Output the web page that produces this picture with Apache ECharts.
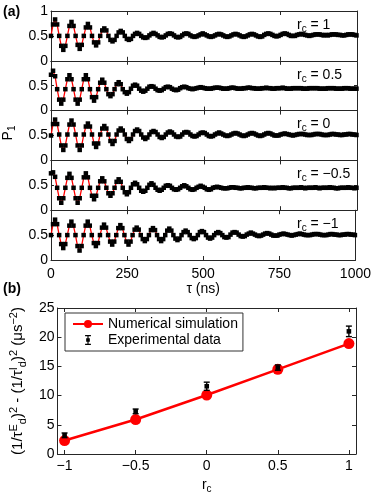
<!DOCTYPE html>
<html>
<head>
<meta charset="utf-8">
<script src="https://cdn.jsdelivr.net/npm/echarts@6/dist/echarts.min.js"></script>
<style>
html, body { margin: 0; padding: 0; background: #fff; }
#main { width: 374px; height: 495px; }
</style>
</head>
<body>
<div id="main"></div>
<script>
// (a) P1 vs tau, one sample every 6.7 ns
var tauStep = 6.7;
var rcLabels = ['1', '0.5', '0', '\u22120.5', '\u22121'];
var p1Rc1 = [
    .50,.73,.83,.73, .50,.30,.22,.30, .50,.70,.78,.70, .50,.32,.24,.32,
    .50,.67,.74,.67, .50,.37,.31,.37, .50,.61,.65,.61, .50,.42,.39,.42,
    .50,.57,.60,.57, .50,.44,.42,.44, .50,.54,.56,.54, .50,.47,.46,.47,
    .51,.54,.56,.54, .51,.48,.47,.48, .51,.54,.55,.54, .51,.48,.47,.48,
    .51,.54,.55,.54, .51,.49,.48,.49, .51,.53,.55,.53, .51,.49,.48,.49,
    .51,.53,.54,.53, .51,.49,.48,.49, .51,.53,.54,.53, .51,.49,.48,.49,
    .51,.53,.54,.53, .51,.49,.48,.49, .52,.54,.55,.54, .52,.50,.49,.50,
    .52,.54,.55,.54, .52,.50,.50,.50, .52,.53,.54,.53, .52,.51,.50,.51,
    .52,.53,.53,.53, .52,.51,.52,.51, .52,.53,.53,.53, .52,.52,.51,.51,
    .52,.53,.53,.53, .52,.51
];
var p1Rc05 = [
    .72,.80,.69, .43,.22,.14,.22, .43,.63,.71,.63, .43,.22,.14,.22,
    .43,.63,.71,.63, .43,.27,.20,.27, .43,.56,.62,.56, .43,.33,.29,.33,
    .43,.53,.57,.53, .43,.37,.34,.37, .44,.50,.52,.50, .44,.40,.38,.40,
    .44,.48,.49,.48, .44,.41,.40,.41, .44,.47,.48,.47, .44,.42,.41,.42,
    .45,.47,.48,.47, .45,.44,.43,.44, .45,.46,.47,.46, .45,.44,.44,.44,
    .45,.46,.46,.46, .45,.44,.44,.44, .45,.46,.46,.45, .44,.44,.44,.45,
    .45,.46,.46,.45, .45,.44,.44,.44, .45,.45,.46,.45, .45,.44,.44,.45,
    .45,.45,.46,.45, .44,.44,.44,.45, .45,.45,.45,.45, .44,.44,.44,.45,
    .45,.45,.45,.45, .44,.44,.44,.44, .45,.45,.45,.45, .44,.44,.44,.44,
    .45,.45,.45,.44, .44,.44,.44
];
var p1Rc0 = [
    .50,.73,.82,.73, .52,.30,.21,.30, .52,.72,.80,.72, .52,.30,.21,.30,
    .52,.68,.74,.68, .52,.34,.27,.34, .52,.64,.69,.64, .52,.39,.33,.39,
    .52,.60,.64,.60, .52,.43,.39,.43, .52,.59,.62,.59, .52,.46,.43,.46,
    .52,.57,.59,.57, .52,.47,.45,.47, .52,.56,.58,.56, .52,.48,.47,.48,
    .52,.56,.57,.56, .52,.49,.48,.49, .52,.55,.56,.55, .52,.49,.48,.49,
    .52,.54,.56,.54, .52,.50,.49,.50, .52,.54,.55,.54, .52,.50,.49,.50,
    .52,.54,.55,.54, .52,.50,.49,.50, .52,.54,.55,.54, .52,.50,.50,.50,
    .52,.53,.54,.53, .52,.51,.50,.51, .52,.53,.53,.53, .52,.51,.51,.51,
    .52,.53,.53,.53, .52,.51,.51,.51, .52,.53,.53,.52, .52,.51,.51,.52,
    .52,.53,.53,.52, .52,.51
];
var p1RcM05 = [
    .74,.76,.67, .45,.24,.15,.24, .45,.65,.73,.65, .45,.24,.15,.24,
    .45,.66,.74,.66, .45,.29,.22,.29, .45,.58,.64,.58, .45,.34,.29,.34,
    .45,.57,.62,.57, .45,.36,.32,.36, .45,.52,.55,.52, .45,.39,.37,.39,
    .45,.51,.54,.51, .45,.41,.39,.41, .45,.49,.50,.49, .45,.42,.41,.42,
    .45,.48,.50,.48, .45,.42,.41,.42, .45,.47,.49,.47, .45,.42,.41,.42,
    .45,.46,.47,.46, .45,.44,.44,.44, .45,.46,.46,.45, .45,.44,.44,.45,
    .45,.46,.45,.45, .44,.44,.45,.45, .45,.46,.45,.45, .44,.45,.44,.45,
    .45,.45,.46,.45, .45,.44,.44,.45, .45,.45,.45,.46, .45,.44,.45,.45,
    .45,.45,.46,.45, .44,.45,.45,.45, .45,.46,.45,.45, .44,.44,.45,.45,
    .45,.45,.46,.45, .45,.44,.45
];
var p1RcM1 = [
    .50,.72,.81,.72, .50,.32,.24,.32, .50,.69,.77,.69, .50,.28,.19,.28,
    .50,.69,.77,.69, .50,.34,.28,.34, .50,.65,.71,.65, .50,.37,.31,.37,
    .50,.64,.70,.64, .50,.37,.31,.37, .50,.61,.65,.61, .50,.42,.38,.42,
    .50,.60,.64,.60, .50,.42,.38,.42, .50,.59,.63,.59, .50,.43,.40,.43,
    .50,.56,.59,.56, .50,.44,.42,.44, .50,.56,.58,.56, .50,.45,.43,.45,
    .50,.54,.56,.54, .50,.46,.45,.46, .51,.55,.56,.55, .51,.48,.47,.48,
    .51,.53,.55,.53, .51,.49,.48,.49, .51,.53,.54,.53, .51,.49,.49,.49,
    .51,.52,.53,.52, .51,.50,.49,.50, .51,.52,.53,.52, .51,.50,.50,.50,
    .51,.52,.52,.52, .51,.50,.50,.50, .51,.52,.52,.51, .51,.50,.50,.51,
    .51,.52,.52,.51, .51,.50
];
var panelsA = [p1Rc1, p1Rc05, p1Rc0, p1RcM05, p1RcM1];

// (b) decay rate difference vs r_c
var rcValues = [-1, -0.5, 0, 0.5, 1];
var simValues = [2.3, 5.9, 10.1, 14.5, 18.9];
var expValues = [3.2, 7.3, 11.6, 14.8, 21.0];
var expErrors = [0.4, 0.4, 0.7, 0.45, 0.9];

var FONT = 'Liberation Sans, Arial, Helvetica, sans-serif';
var AX = '#262626';

var chart = echarts.init(document.getElementById('main'));

var grids = [], xAxes = [], yAxes = [], series = [], graphics = [];
var topA = 11, hA = 49.8;

for (var i = 0; i < 5; i++) {
    grids.push({left: 51, right: 17, top: topA + hA * i, height: hA});
    var last = (i === 4);
    xAxes.push({
        type: 'value', gridIndex: i, position: 'bottom', min: 0, max: 1000, interval: 250,
        axisLine: {show: true, onZero: false, lineStyle: {color: AX, width: 1}},
        axisTick: {show: true, inside: true, length: 4, lineStyle: {color: AX}},
        axisLabel: {show: last, color: '#000', fontSize: 14, margin: 7, fontFamily: FONT,
            formatter: function (v) { return String(v); }},
        splitLine: {show: false},
        name: last ? '\u03c4 (ns)' : '', nameLocation: 'middle', nameGap: 22,
        nameTextStyle: {color: '#000', fontSize: 14, fontFamily: FONT}
    });
    xAxes.push({
        type: 'value', gridIndex: i, position: 'top', min: 0, max: 1000, interval: 250,
        axisLine: {show: true, onZero: false, lineStyle: {color: AX, width: 1}},
        axisTick: {show: true, inside: true, length: 4, lineStyle: {color: AX}},
        axisLabel: {show: false}, splitLine: {show: false}
    });
    (function (k) {
        yAxes.push({
            type: 'value', gridIndex: k, position: 'left', min: 0, max: 1, interval: 0.5,
            axisLine: {show: true, onZero: false, lineStyle: {color: AX, width: 1}},
            axisTick: {show: true, inside: true, length: 3, lineStyle: {color: AX}},
            axisLabel: {
                color: '#000', fontSize: 14, margin: 3, fontFamily: FONT,
                formatter: function (v) { return (k > 0 && v === 1) ? '' : String(v); }
            },
            splitLine: {show: false}
        });
    })(i);
    yAxes.push({
        type: 'value', gridIndex: i, position: 'right', min: 0, max: 1, interval: 0.5,
        axisLine: {show: true, onZero: false, lineStyle: {color: AX, width: 1}},
        axisTick: {show: true, inside: true, length: 3, lineStyle: {color: AX}},
        axisLabel: {show: false}, splitLine: {show: false}
    });

    var pts = [];
    for (var j = 0; j < panelsA[i].length; j++) {
        pts.push([j * tauStep, panelsA[i][j]]);
    }
    series.push({
        type: 'line', xAxisIndex: 2 * i, yAxisIndex: 2 * i, data: pts,
        symbol: 'rect', symbolSize: 4.5, showSymbol: true,
        itemStyle: {color: '#000'},
        lineStyle: {color: '#ff0000', width: 1.3},
        silent: true
    });

    graphics.push({
        type: 'text', x: 297, y: topA + hA * i + 14,
        style: {
            text: 'r{s|c} = ' + rcLabels[i], fill: '#000',
            font: '14px ' + FONT, verticalAlign: 'middle', align: 'left',
            rich: {s: {fontSize: 10, fontFamily: FONT, padding: [8, 0, 0, 0]}}
        }
    });
}

// y title of (a), shared by the five panels
graphics.push({
    type: 'text', x: 8, y: 133, rotation: Math.PI / 2,
    style: {
        text: 'P{s|1}', fill: '#000', font: '14px ' + FONT,
        align: 'center', verticalAlign: 'middle',
        rich: {s: {fontSize: 10, fontFamily: FONT, padding: [8, 0, 0, 0]}}
    }
});

// panel (b)
grids.push({left: 56, right: 18, top: 308, height: 151});
var bTicks = rcValues.slice();
function minusFmt(v) { return String(v).replace('-', '\u2212'); }
xAxes.push({
    type: 'value', gridIndex: 5, position: 'bottom', min: -1.05, max: 1.05,
    axisLine: {show: true, onZero: false, lineStyle: {color: AX, width: 1}},
    axisTick: {show: true, inside: true, length: 4, customValues: bTicks, lineStyle: {color: AX}},
    axisLabel: {color: '#000', fontSize: 14, margin: 5, fontFamily: FONT, customValues: bTicks, formatter: minusFmt},
    splitLine: {show: false},
    name: 'r{s|c}', nameLocation: 'middle', nameGap: 22,
    nameTextStyle: {color: '#000', fontSize: 14, fontFamily: FONT,
        rich: {s: {fontSize: 10, fontFamily: FONT, padding: [8, 0, 0, 0]}}}
});
xAxes.push({
    type: 'value', gridIndex: 5, position: 'top', min: -1.05, max: 1.05,
    axisLine: {show: true, onZero: false, lineStyle: {color: AX, width: 1}},
    axisTick: {show: true, inside: true, length: 4, customValues: bTicks, lineStyle: {color: AX}},
    axisLabel: {show: false}, splitLine: {show: false}
});
var supSub = {
    sp: {fontSize: 11, fontFamily: FONT, padding: [0, 0, 9, 0]},
    sb: {fontSize: 11, fontFamily: FONT, padding: [9, 0, 0, 0]}
};
yAxes.push({
    type: 'value', gridIndex: 5, position: 'left', min: 0, max: 25, interval: 5,
    axisLine: {show: true, onZero: false, lineStyle: {color: AX, width: 1}},
    axisTick: {show: true, inside: true, length: 4, lineStyle: {color: AX}},
    axisLabel: {color: '#000', fontSize: 14, margin: 3, fontFamily: FONT},
    splitLine: {show: false},
    name: '(1/\u03c4{sp|E}{sb|d}){sp|2} - (1/\u03c4{sp|I}{sb|d}){sp|2} (\u03bcs{sp|\u22122})',
    nameLocation: 'middle', nameRotate: 90, nameGap: 27,
    nameTextStyle: {color: '#000', fontSize: 15, fontFamily: FONT, rich: supSub}
});
yAxes.push({
    type: 'value', gridIndex: 5, position: 'right', min: 0, max: 25, interval: 5,
    axisLine: {show: true, onZero: false, lineStyle: {color: AX, width: 1}},
    axisTick: {show: true, inside: true, length: 4, lineStyle: {color: AX}},
    axisLabel: {show: false}, splitLine: {show: false}
});

var simData = rcValues.map(function (x, k) { return [x, simValues[k]]; });
var expData = rcValues.map(function (x, k) { return [x, expValues[k], expErrors[k]]; });

series.push({
    name: 'Numerical simulation', type: 'line', xAxisIndex: 10, yAxisIndex: 10,
    data: simData, symbol: 'circle', symbolSize: 11,
    itemStyle: {color: '#ff0000'}, lineStyle: {color: '#ff0000', width: 2.5}, z: 2
});
series.push({
    name: 'Experimental data', type: 'custom', xAxisIndex: 10, yAxisIndex: 10,
    data: expData, itemStyle: {color: '#000'}, z: 3,
    encode: {x: 0, y: 1},
    renderItem: function (params, api) {
        var x = api.value(0), y = api.value(1), e = api.value(2);
        var hi = api.coord([x, y + e]), lo = api.coord([x, y - e]), c = api.coord([x, y]);
        var cap = 3, s = 2.3;
        var st = {stroke: '#000', lineWidth: 1.4};
        return {
            type: 'group', children: [
                {type: 'line', shape: {x1: hi[0], y1: hi[1], x2: lo[0], y2: lo[1]}, style: st},
                {type: 'line', shape: {x1: hi[0] - cap, y1: hi[1], x2: hi[0] + cap, y2: hi[1]}, style: st},
                {type: 'line', shape: {x1: lo[0] - cap, y1: lo[1], x2: lo[0] + cap, y2: lo[1]}, style: st},
                {type: 'rect', shape: {x: c[0] - s, y: c[1] - s, width: 2 * s, height: 2 * s}, style: {fill: '#000'}}
            ]
        };
    }
});

graphics.push({type: 'text', x: 3, y: 12, style: {text: '(a)', fill: '#000', font: 'bold 14px ' + FONT, verticalAlign: 'middle'}});
graphics.push({type: 'text', x: 3, y: 289, style: {text: '(b)', fill: '#000', font: 'bold 14px ' + FONT, verticalAlign: 'middle'}});

var option = {
    animation: false,
    textStyle: {fontFamily: FONT},
    grid: grids,
    xAxis: xAxes,
    yAxis: yAxes,
    legend: {
        orient: 'vertical', left: 65, top: 313,
        padding: [4, 5, 4, 7], itemGap: 2, itemWidth: 30, itemHeight: 10,
        borderColor: '#333', borderWidth: 1, backgroundColor: '#fff',
        textStyle: {color: '#000', fontSize: 14, fontFamily: FONT},
        data: [
            {name: 'Numerical simulation'},
            {name: 'Experimental data', icon: 'path://M0,0h7v1.4h-7z M2.8,0h1.4v12h-1.4z M0,10.6h7v1.4h-7z M1.3,4h4.4v4h-4.4z'}
        ]
    },
    graphic: graphics,
    series: series
};
chart.setOption(option);
</script>
</body>
</html>
